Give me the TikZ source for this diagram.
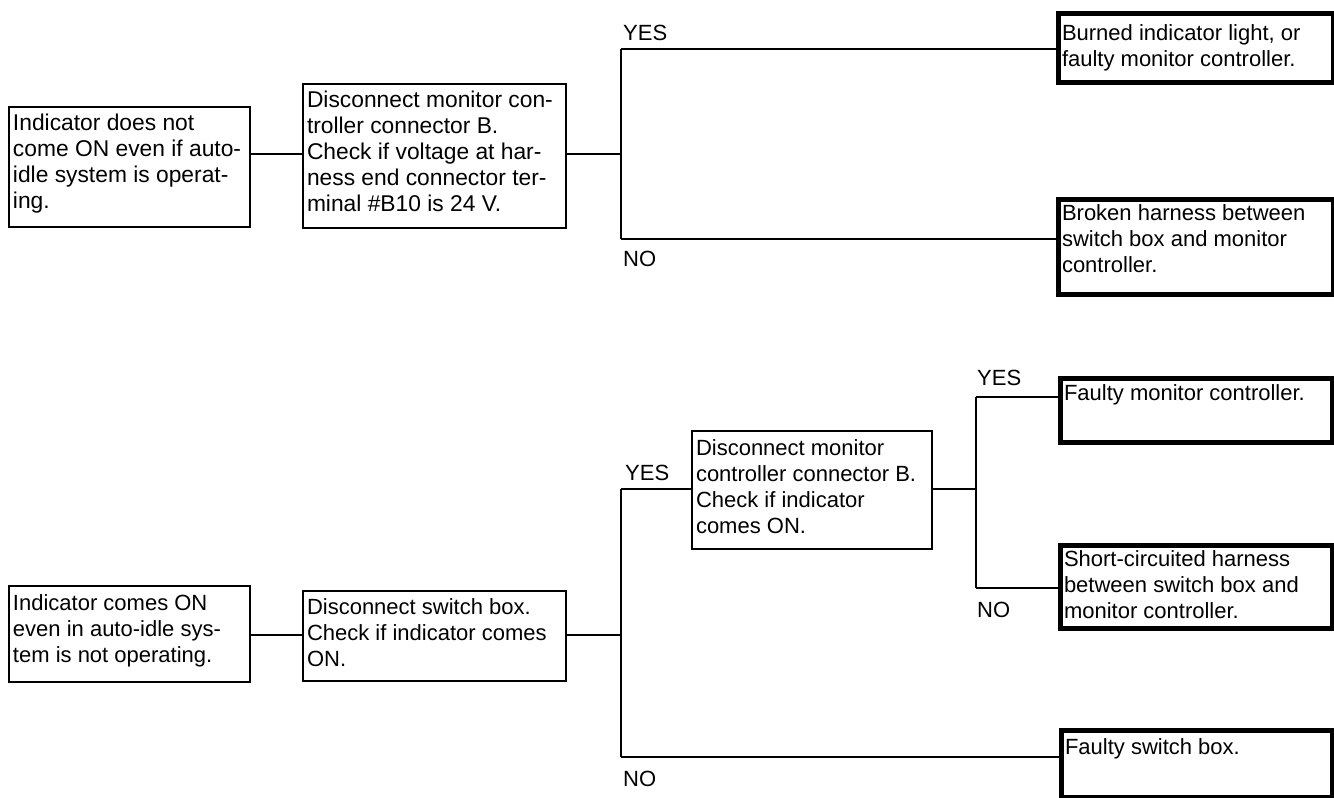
\documentclass[tikz,border=0pt]{standalone}
\usepackage{fontspec}
\setmainfont{Liberation Sans}
\usetikzlibrary{calc}

% box content: width, height, first-baseline offset, text
\newcommand{\cell}[4]{\parbox[c][#2pt][t]{#1pt}{\raggedright\leftskip=4pt\relax\rule{0pt}{#3pt}#4}}

\tikzset{
  chk/.style={draw, line width=2pt, inner sep=0pt, anchor=north west, fill=white},
  res/.style={chk, line width=5pt},
  wide/.style={font=\fontsize{22.8}{26}\selectfont},
  lbl/.style={inner sep=0pt, anchor=base west},
  wire/.style={line width=2pt},
}

\begin{document}
\begin{tikzpicture}[x=1pt, y=-1pt, font=\fontsize{22}{26}\selectfont]
\useasboundingbox (0,0) rectangle (1334,798);

% ---------- upper chart ----------
\node[chk, wide] (a1) at (8,106)  {\cell{241}{120}{23}{Indicator does not\\come ON even if auto-\\idle system is operat-\\ing.}};
\node[chk, wide] (a2) at (302,83) {\cell{263}{144}{23}{Disconnect monitor con-\\troller connector B.\\Check if voltage at har-\\ness end connector ter-\\minal \#B10 is 24 V.}};
\node[res] (r1) at (1055.5,10.5)  {\cell{275}{69}{27}{Burned indicator light, or\\faulty monitor controller.}};
\node[res] (r2) at (1055.5,196.5) {\cell{275}{95}{21}{Broken harness between\\switch box and monitor\\controller.}};

\coordinate (j1)  at (621,154);
\coordinate (j1t) at (621,49);
\coordinate (j1b) at (621,239);

\draw[wire] (a1.east |- j1) -- (a2.west |- j1);
\draw[wire] (a2.east |- j1) -- (j1);
\draw[wire] (j1t) -- (j1b);
\draw[wire] (j1t) -- (r1.west |- j1t);
\draw[wire] (j1b) -- (r2.west |- j1b);

\node[lbl] (y1) at (623,40)  {YES};
\node[lbl] (n1) at (623,266) {NO};

% ---------- lower chart ----------
\node[chk] (b1) at (8,585)   {\cell{241}{96}{24}{Indicator comes ON\\even in auto-idle sys-\\tem is not operating.}};
\node[chk] (b2) at (302,590) {\cell{263}{90}{23}{Disconnect switch box.\\Check if indicator comes\\ON.}};
\node[chk] (b3) at (691,430) {\cell{240}{118}{24}{Disconnect monitor\\controller connector B.\\Check if indicator\\comes ON.}};
\node[res] (r3) at (1057.5,375.5) {\cell{272}{64}{22}{Faulty monitor controller.}};
\node[res] (r4) at (1057.5,542.5) {\cell{272}{83}{21}{Short-circuited harness\\between switch box and\\monitor controller.}};
\node[res] (r5) at (1058.5,727.5) {\cell{271}{67}{24}{Faulty switch box.}};

\coordinate (j2)  at (621,635);
\coordinate (j2t) at (621,489);
\coordinate (j2b) at (621,757);
\coordinate (j3)  at (976,489);
\coordinate (j3t) at (976,397);
\coordinate (j3b) at (976,588);

\draw[wire] (b1.east |- j2) -- (b2.west |- j2);
\draw[wire] (b2.east |- j2) -- (j2);
\draw[wire] (j2t) -- (j2b);
\draw[wire] (j2t) -- (b3.west |- j2t);
\draw[wire] (j2b) -- (r5.west |- j2b);
\draw[wire] (b3.east |- j3) -- (j3);
\draw[wire] (j3t) -- (j3b);
\draw[wire] (j3t) -- (r3.west |- j3t);
\draw[wire] (j3b) -- (r4.west |- j3b);

\node[lbl] (y2) at (625,480) {YES};
\node[lbl] (n2) at (623,786) {NO};
\node[lbl] (y3) at (977,385) {YES};
\node[lbl] (n3) at (977,617) {NO};
\end{tikzpicture}
\end{document}
